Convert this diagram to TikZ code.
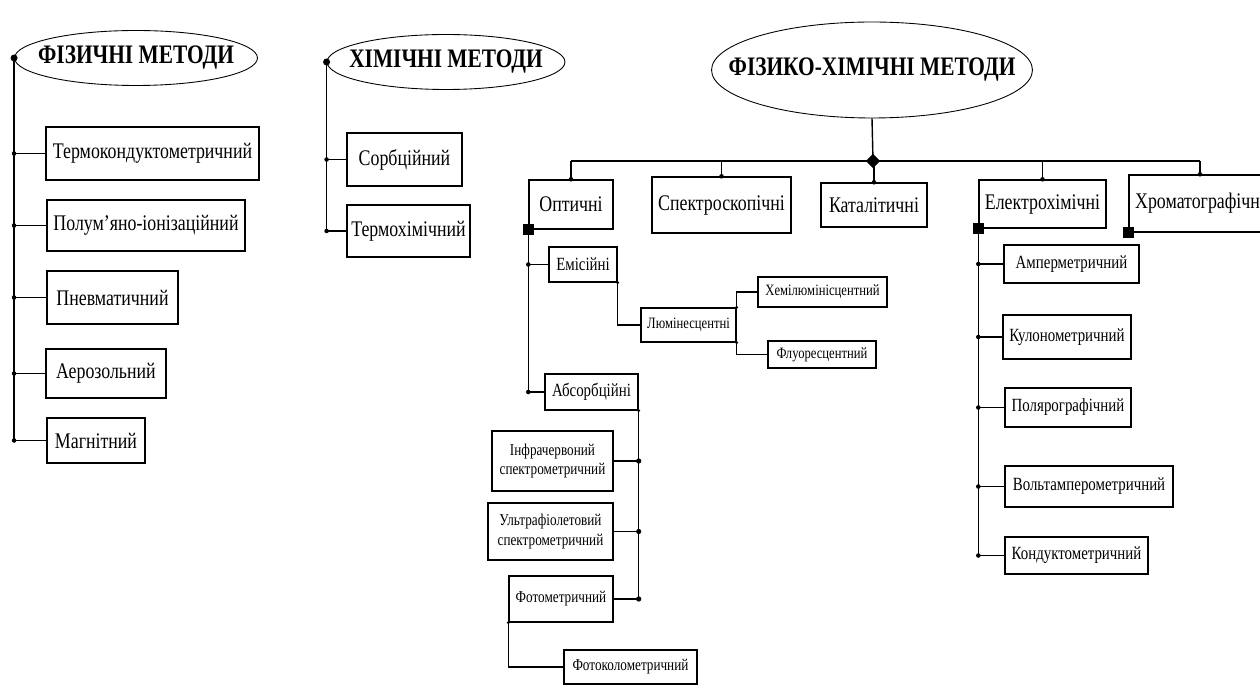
\documentclass[tikz,border=0pt]{standalone}
\usepackage{fontspec}
\setmainfont{Liberation Serif}[FakeStretch=0.8]
\usetikzlibrary{shapes.geometric, positioning, calc}

\begin{document}
\begin{tikzpicture}[x=0.02cm,y=-0.02cm,line width=0.8pt,
    oval/.style={ellipse,draw,line width=0.5pt,inner sep=0pt},
    titul/.style={font=\fontsize{15.2}{16}\selectfont\bfseries},
    blok/.style={rectangle,draw,inner sep=1pt,font=\fontsize{12.7}{14}\selectfont},
    blokm/.style={blok,font=\fontsize{10.6}{12}\selectfont},
    bloks/.style={blok,font=\fontsize{9.4}{11.3}\selectfont,align=center},
    blokxs/.style={blok,font=\fontsize{9}{10}\selectfont}]
    \clip (0,0) rectangle (1260,685);

    % Фізичні методи
    \node[oval,minimum width=4.86cm,minimum height=1.1cm] (fiz) at (136,58) {};
    \node[titul] (fizt) at (136,58) {ФІЗИЧНІ МЕТОДИ};
    \node[blok,minimum width=4.26cm,minimum height=1.06cm] (termo) at (152.5,153.5) {Термокондуктометричний};
    \node[blok,minimum width=3.96cm,minimum height=1.02cm] (polum) at (146,225.5) {Полум'яно-іонізаційний};
    \node[blok,minimum width=2.62cm,minimum height=1.06cm] (pnev) at (112.5,297.5) {Пневматичний};
    \node[blok,minimum width=2.40cm,minimum height=0.98cm] (aero) at (106,373.5) {Аерозольний};
    \node[blok,minimum width=1.96cm,minimum height=0.90cm] (magn) at (96,440.5) {Магнітний};
    \draw (fiz.west) -- (fiz.west |- magn.west);
    \fill (fiz.west) circle (2pt);
    \foreach \b in {termo,polum,pnev,aero,magn}{
        \draw (\b.west) -- (fiz.west |- \b.west) coordinate (t);
        \fill (t) circle (1.3pt);
    }

    % Хімічні методи
    \node[oval,minimum width=4.76cm,minimum height=1.1cm] (him) at (446,62) {};
    \node[titul] (himt) at (446,62) {ХІМІЧНІ МЕТОДИ};
    \node[blok,minimum width=2.30cm,minimum height=1.06cm] (sorb) at (404.5,159.5) {Сорбційний};
    \node[blok,minimum width=2.46cm,minimum height=1.04cm] (termoh) at (408.5,231) {Термохімічний};
    \draw (him.west) -- (him.west |- termoh.west);
    \fill (him.west) circle (2pt);
    \foreach \b in {sorb,termoh}{
        \draw (\b.west) -- (him.west |- \b.west) coordinate (t);
        \fill (t) circle (1.3pt);
    }

    % Фізико-хімічні методи
    \node[oval,minimum width=6.42cm,minimum height=1.92cm] (fh) at (872,70) {};
    \node[titul] (fht) at (872,70) {ФІЗИКО-ХІМІЧНІ МЕТОДИ};
    \node[blok,minimum width=1.68cm,minimum height=0.98cm] (opt) at (571,204.5) {Оптичні};
    \node[blok,minimum width=2.78cm,minimum height=1.12cm] (spec) at (721.5,205) {Спектроскопічні};
    \node[blok,minimum width=2.12cm,minimum height=0.88cm] (kat) at (874,205) {Каталітичні};
    \node[blok,minimum width=2.54cm,minimum height=0.96cm] (elch) at (1042.5,204) {Електрохімічні};
    \node[blok,minimum width=2.84cm,minimum height=1.14cm] (hrom) at (1200,203.5) {Хроматографічні};
    \coordinate (vuz) at (873,161);
    \draw (fh.south) -- (vuz);
    \draw (opt.north |- vuz) -- (hrom.north |- vuz);
    \foreach \b in {opt,spec,kat,elch,hrom}{
        \draw (\b.north |- vuz) -- (\b.north);
        \fill (\b.north) circle (1.3pt);
    }
    \fill[shift={(vuz)}] (0,4pt) -- (4pt,0) -- (0,-4pt) -- (-4pt,0) -- cycle;

    % Оптичні
    \node[blokm,minimum width=1.36cm,minimum height=0.70cm] (emis) at (583,264.5) {Емісійні};
    \node[blokxs,minimum width=1.90cm,minimum height=0.68cm] (lum) at (688.5,325) {Люмінесцентні};
    \node[blokxs,minimum width=2.58cm,minimum height=0.60cm] (hemi) at (822.5,292) {Хемілюмінісцентний};
    \node[blokxs,minimum width=2.16cm,minimum height=0.54cm] (fluo) at (822,354.5) {Флуоресцентний};
    \node[blokm,minimum width=1.86cm,minimum height=0.72cm] (abs) at (591.5,392) {Абсорбційні};
    \node[bloks,minimum width=2.42cm,minimum height=1.20cm] (infra) at (552.5,461) {Інфрачервоний\\спектрометричний};
    \node[bloks,minimum width=2.50cm,minimum height=1.14cm] (ultra) at (550.5,531.5) {Ультрафіолетовий\\спектрометричний};
    \node[bloks,minimum width=2.08cm,minimum height=0.92cm] (foto) at (561,599) {Фотометричний};
    \node[bloks,minimum width=2.66cm,minimum height=0.68cm] (fotokol) at (630.5,667) {Фотоколометричний};
    \draw (opt.south west) -- (opt.south west |- abs.west);
    \fill (opt.south west) +(-3pt,-3pt) rectangle +(3pt,3pt);
    \foreach \b in {emis,abs}{
        \draw (\b.west) -- (opt.south west |- \b.west) coordinate (t);
        \fill (t) circle (1.3pt);
    }
    \draw (emis.south east) |- (lum.west);
    \draw (lum.north east) |- (hemi.west);
    \draw (lum.south east) |- (fluo.west);
    \draw (abs.south east) |- (foto.east);
    \foreach \b in {infra,ultra,foto}{
        \draw (\b.east) -- (abs.south east |- \b.east) coordinate (t);
        \fill (t) circle (1.5pt);
    }
    \draw (foto.south west) |- (fotokol.west);
    \foreach \c in {emis.south east,lum.north east,lum.south east,abs.south east,foto.south west}
        \fill (\c) circle (0.9pt);

    % Електрохімічні
    \node[blokm,minimum width=2.70cm,minimum height=0.76cm] (amp) at (1071.5,264) {Амперметричний};
    \node[blokm,minimum width=2.56cm,minimum height=0.88cm] (kul) at (1067,337) {Кулонометричний};
    \node[blokm,minimum width=2.52cm,minimum height=0.78cm] (pol) at (1068,407.5) {Полярографічний};
    \node[blokm,minimum width=3.36cm,minimum height=0.82cm] (volt) at (1089,486.5) {Вольтамперометричний};
    \node[blokm,minimum width=2.86cm,minimum height=0.74cm] (kond) at (1076.5,555.5) {Кондуктометричний};
    \draw (elch.south west) -- (elch.south west |- kond.west);
    \fill (elch.south west) +(-3pt,-3pt) rectangle +(3pt,3pt);
    \foreach \b in {amp,kul,pol,volt,kond}{
        \draw (\b.west) -- (elch.south west |- \b.west) coordinate (t);
        \fill (t) circle (1.3pt);
    }

    % Хроматографічні
    \fill (hrom.south west) +(-3pt,-3pt) rectangle +(3pt,3pt);
\end{tikzpicture}
\end{document}
